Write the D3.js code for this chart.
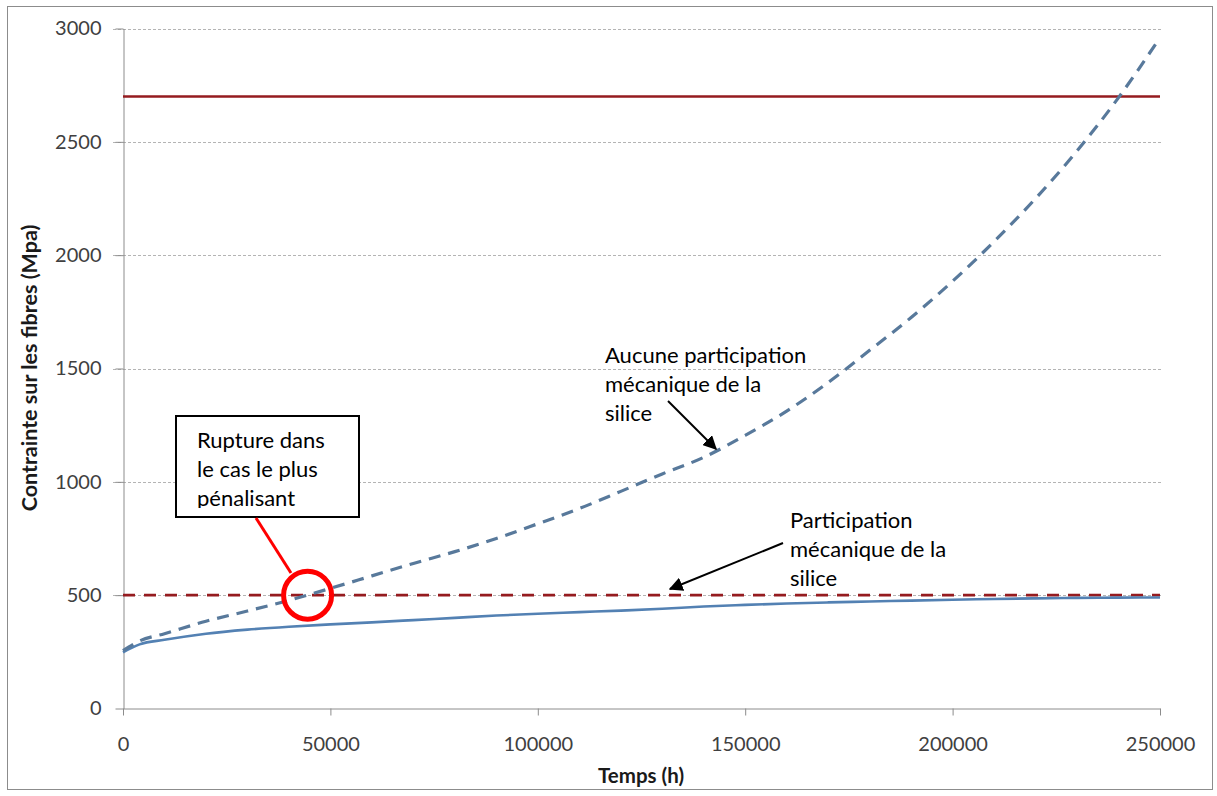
<!DOCTYPE html>
<html>
<head>
<meta charset="utf-8">
<script src="https://cdn.jsdelivr.net/npm/d3@7"></script>
<style>
  html, body { margin: 0; padding: 0; background: #fff; }
  svg { display: block; }
</style>
</head>
<body>
<svg id="chart" width="1217" height="796"></svg>
<script>
// Time samples (hours)
const timeH = [0, 4000, 10000, 20000, 30000, 40000, 50000, 60000, 70000, 80000, 90000,
  100000, 110000, 120000, 130000, 140000, 150000, 160000, 170000, 180000, 190000,
  200000, 210000, 220000, 230000, 240000, 250000];

// Stress with mechanical participation of the silica (MPa)
const withSilica = [248, 283, 303, 330, 348, 361, 371, 380, 390, 400, 410,
  418, 425, 432, 440, 450, 457, 463, 468, 472, 476,
  480, 483, 486, 488, 489, 490];

// Stress without any mechanical participation of the silica (MPa)
const withoutSilica = [255, 298, 330, 385, 430, 477, 530, 585, 640, 692, 750,
  815, 882, 958, 1035, 1108, 1205, 1312, 1438, 1580, 1725,
  1885, 2060, 2250, 2460, 2695, 2960];

// Reference stress levels (MPa)
const ruptureLevel = 2700;
const limitLevel = 500;

const xTicks = [0, 50000, 100000, 150000, 200000, 250000];
const yTicks = [0, 500, 1000, 1500, 2000, 2500, 3000];

const svg = d3.select("#chart");
const font = "Lato, 'Open Sans', sans-serif";

// Outer frame
svg.append("rect").attr("x", 7.5).attr("y", 6.5).attr("width", 1205).attr("height", 783)
  .attr("fill", "#fff").attr("stroke", "#8c8c8c").attr("stroke-width", 1);

const x = d3.scaleLinear().domain([0, 250000]).range([123, 1160]);
const y = d3.scaleLinear().domain([0, 3000]).range([708.5, 28.5]);

// Horizontal gridlines
svg.append("g").selectAll("line").data(yTicks.filter(d => d > 0)).join("line")
  .attr("x1", 113).attr("x2", 1163)
  .attr("y1", d => Math.round(y(d)) + 0.5).attr("y2", d => Math.round(y(d)) + 0.5)
  .attr("stroke", "#b4b4b4").attr("stroke-width", 1).attr("stroke-dasharray", "3,2");

// Y axis
const yAxis = svg.append("g").attr("transform", "translate(123.5,0)")
  .call(d3.axisLeft(y).tickValues(yTicks).tickFormat(d3.format("d"))
    .tickSize(8).tickSizeOuter(0).tickPadding(14));
yAxis.select(".domain").attr("stroke", "#8c8c8c");
yAxis.selectAll(".tick line").attr("stroke", "#8c8c8c");
yAxis.selectAll(".tick text").attr("font-family", font).attr("font-size", 20)
  .attr("fill", "#404040");

// X axis
const xAxis = svg.append("g").attr("transform", `translate(0,${y(0)})`)
  .call(d3.axisBottom(x).tickValues(xTicks).tickFormat(d3.format("d"))
    .tickSize(7).tickSizeOuter(0).tickPadding(21));
xAxis.select(".domain").attr("stroke", "#8c8c8c");
xAxis.selectAll(".tick line").attr("stroke", "#8c8c8c");
xAxis.selectAll(".tick text").attr("font-family", font).attr("font-size", 20)
  .attr("fill", "#404040");

// Axis titles
svg.append("text").attr("x", 641).attr("y", 783).attr("text-anchor", "middle")
  .attr("font-family", font).attr("font-weight", "bold").attr("font-size", 20.5)
  .attr("fill", "#1a1a1a").text("Temps (h)");
svg.append("text").attr("transform", "translate(37,368) rotate(-90)").attr("text-anchor", "middle")
  .attr("font-family", font).attr("font-weight", "bold").attr("font-size", 21.5)
  .attr("fill", "#1a1a1a").text("Contrainte sur les fibres (Mpa)");

// Reference levels
svg.append("line").attr("x1", x(0)).attr("x2", x(250000))
  .attr("y1", y(ruptureLevel)).attr("y2", y(ruptureLevel))
  .attr("stroke", "#951b1f").attr("stroke-width", 2.6);
svg.append("line").attr("x1", x(0)).attr("x2", x(250000))
  .attr("y1", y(limitLevel)).attr("y2", y(limitLevel))
  .attr("stroke", "#951b1f").attr("stroke-width", 2.6).attr("stroke-dasharray", "12,9");

const line = d3.line().x((d, i) => x(timeH[i])).y(d => y(d)).curve(d3.curveMonotoneX);

svg.append("path").datum(withSilica).attr("d", line)
  .attr("fill", "none").attr("stroke", "#5381b3").attr("stroke-width", 2.6);
svg.append("path").datum(withoutSilica).attr("d", line)
  .attr("fill", "none").attr("stroke", "#58799b").attr("stroke-width", 3.2)
  .attr("stroke-dasharray", "12,8");

// Arrow marker
const defs = svg.append("defs");
defs.append("marker").attr("id", "arrowHead").attr("viewBox", "0 0 10 10")
  .attr("refX", 9).attr("refY", 5).attr("markerWidth", 7).attr("markerHeight", 7)
  .attr("markerUnits", "strokeWidth").attr("orient", "auto")
  .append("path").attr("d", "M0,0 L10,5 L0,10 z").attr("fill", "#000");

function multiline(xp, yp, lines, lh) {
  const t = svg.append("text").attr("font-family", font).attr("font-size", 22).attr("fill", "#000");
  lines.forEach((s, i) => t.append("tspan").attr("x", xp).attr("y", yp + i * lh).text(s));
  return t;
}

// Annotation: no silica participation
multiline(605, 363, ["Aucune participation", "mécanique de la", "silice"], 29);
svg.append("line").attr("x1", 668).attr("y1", 401).attr("x2", 716).attr("y2", 449)
  .attr("stroke", "#000").attr("stroke-width", 2).attr("marker-end", "url(#arrowHead)");

// Annotation: silica participation
multiline(790, 528, ["Participation", "mécanique de la", "silice"], 29);
svg.append("line").attr("x1", 783).attr("y1", 543).attr("x2", 670).attr("y2", 589)
  .attr("stroke", "#000").attr("stroke-width", 2).attr("marker-end", "url(#arrowHead)");

// Annotation: rupture callout (text area cut off at the bottom of the box)
const clip = defs.append("clipPath").attr("id", "boxClip");
clip.append("rect").attr("x", 176).attr("y", 416).attr("width", 183).attr("height", 92);
svg.append("rect").attr("x", 176).attr("y", 416).attr("width", 183).attr("height", 101)
  .attr("fill", "#fff").attr("stroke", "#000").attr("stroke-width", 2);
multiline(197, 448, ["Rupture dans", "le cas le plus", "pénalisant"], 29)
  .attr("clip-path", "url(#boxClip)");
svg.append("line").attr("x1", 256).attr("y1", 518).attr("x2", 291).attr("y2", 573)
  .attr("stroke", "#ff0000").attr("stroke-width", 3);
svg.append("circle").attr("cx", x(44500)).attr("cy", y(limitLevel)).attr("r", 24)
  .attr("fill", "none").attr("stroke", "#ff0000").attr("stroke-width", 5);
</script>
</body>
</html>
